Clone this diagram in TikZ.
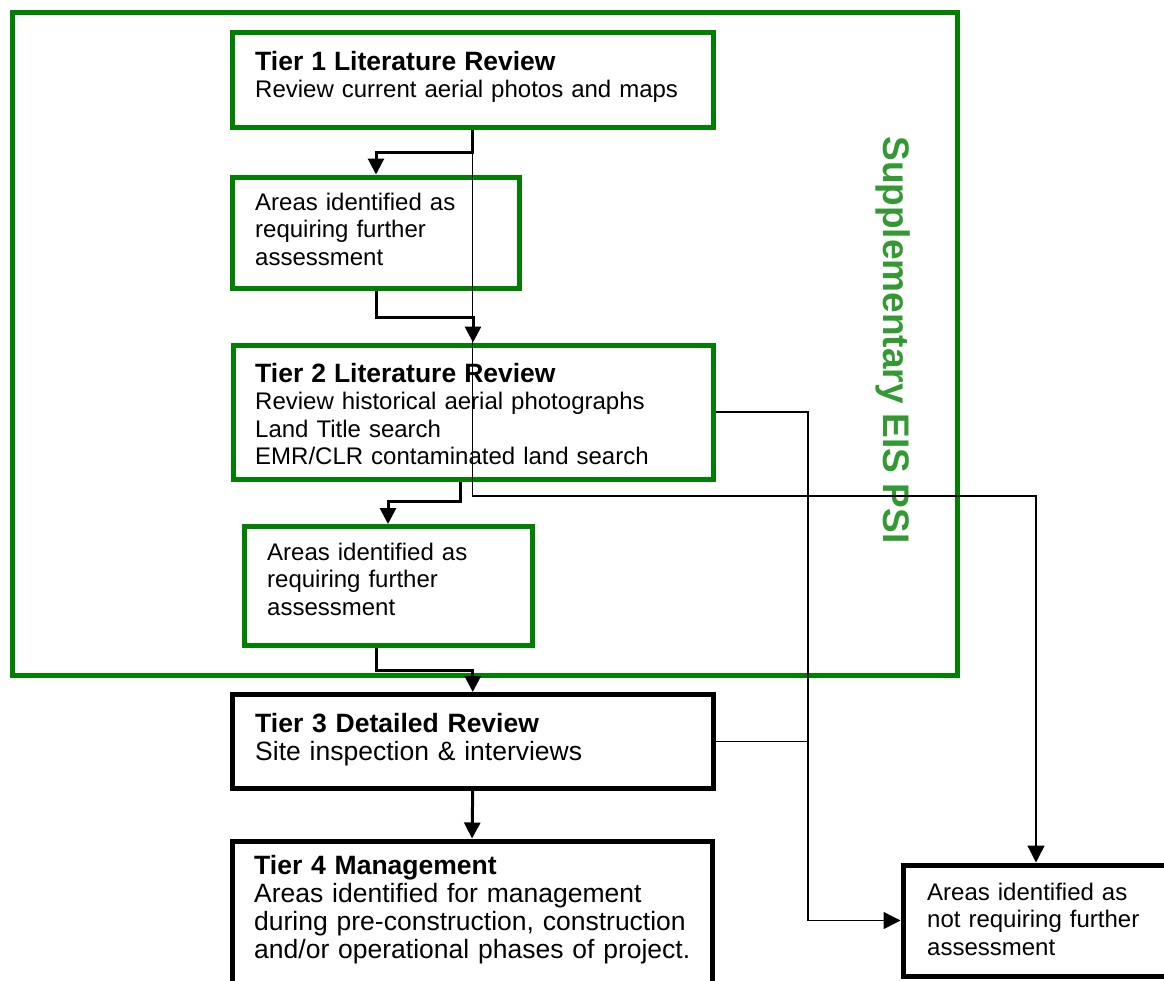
\documentclass[tikz,border=0pt]{standalone}
\usepackage{fontspec}
\setmainfont{Liberation Sans}
\usetikzlibrary{arrows.meta}
\definecolor{boxgreen}{RGB}{0,128,0}
\definecolor{psigreen}{RGB}{51,153,51}
\newcommand\ttlfont{\fontsize{26.5}{28}\selectfont\bfseries}
\newcommand\smallbody{\fontsize{24}{27.5}\selectfont}
\newcommand\bigbody{\fontsize{26.5}{28}\selectfont}
\tikzset{
  gbox/.style={draw=boxgreen, line width=5pt, fill=white, inner sep=0pt, rectangle},
  kbox/.style={draw=black, line width=5pt, fill=white, inner sep=0pt, rectangle},
  txt/.style={anchor=base west, inner sep=0pt, align=left, text width=#1},
  thickc/.style={line width=3pt, -{Triangle[length=16pt,width=16pt]}},
  thickplain/.style={line width=3pt},
  thinc/.style={line width=1.3pt, -{Triangle[length=17pt,width=17pt]}},
  thinplain/.style={line width=1.3pt}
}
\begin{document}
\begin{tikzpicture}[x=1pt,y=-1pt]
\useasboundingbox (0,0) rectangle (1164,980);
\clip (0,0) rectangle (1164,980);
% outer supplementary frame
\node[draw=boxgreen, line width=5pt, inner sep=0pt, minimum width=945pt, minimum height=662.5pt] (psi) at (485,343.75) {};
\node[rotate=-90, anchor=base, text=psigreen, font=\fontsize{37}{40}\selectfont\bfseries, inner sep=0pt] (psilabel) at (883,340) {Supplementary EIS PSI};
% boxes
\node[gbox, minimum width=480.5pt, minimum height=95pt] (tier1) at (472.75,80) {};
\node[gbox, minimum width=287pt, minimum height=111pt] (box2) at (376,232.5) {};
\node[gbox, minimum width=480pt, minimum height=134pt] (tier2) at (473,412) {};
\node[gbox, minimum width=288pt, minimum height=118.5pt] (box4) at (388,585.75) {};
\node[kbox, minimum width=480.5pt, minimum height=93.5pt] (tier3) at (472.75,741.25) {};
\node[kbox, minimum width=480pt, minimum height=169pt] (tier4) at (472,925.5) {};
\node[kbox, minimum width=297pt, minimum height=111pt] (rbox) at (1051.5,920.5) {};
% texts
\node[txt=450pt, font=\smallbody] (t1) at (255,70) {{\ttlfont Tier 1 Literature Review}\\Review current aerial photos and maps};
\node[txt=260pt, font=\smallbody] (t2) at (255,210) {Areas identified as\\requiring further\\assessment};
\node[txt=450pt, font=\smallbody] (t3) at (255,382) {{\ttlfont Tier 2 Literature Review}\\Review historical aerial photographs\\Land Title search\\EMR/CLR contaminated land search};
\node[txt=260pt, font=\smallbody] (t4) at (267,560) {Areas identified as\\requiring further\\assessment};
\node[txt=450pt, font=\bigbody] (t5) at (255,732) {{\ttlfont Tier 3 Detailed Review}\\Site inspection \& interviews};
\node[txt=460pt, font=\bigbody] (t6) at (254,874) {{\ttlfont Tier 4 Management}\\Areas identified for management\\during pre-construction, construction\\and/or operational phases of project.};
\node[txt=230pt, font=\smallbody] (t7) at (927,900) {Areas identified as\\not requiring further\\assessment};
% helper coordinates
\coordinate (j1) at (0,152.5);
\coordinate (j2) at (0,317);
\coordinate (j3) at (0,501);
\coordinate (j4) at (0,670);
\coordinate (j5) at (0,496);
\coordinate (c376) at (376,0);
\coordinate (c460) at (460,0);
\coordinate (c808) at (808,0);
\coordinate (c1036) at (1036,0);
% thick connectors
\draw[thickc] (tier1.south) -- (tier1.south |- j1) -| (box2.north);
\draw[thickc] (box2.south) -- (box2.south |- j2) -| (tier2.north);
\draw[thickc] (tier2.south -| c460) -- (c460 |- j3) -| (box4.north);
\draw[thickc] (box4.south -| c376) -- (c376 |- j4) -| (tier3.north);
\draw[thickc] (tier3.south) -- (tier4.north);
% thin connectors
\draw[thinc] (tier1.south) |- (c1036 |- j5) -- (rbox.north -| c1036);
\draw[thinc] (tier2.east) -| (c808 |- rbox.west) -- (rbox.west);
\draw[thinplain] (tier3.east) -- (tier3.east -| c808);
\end{tikzpicture}
\end{document}
